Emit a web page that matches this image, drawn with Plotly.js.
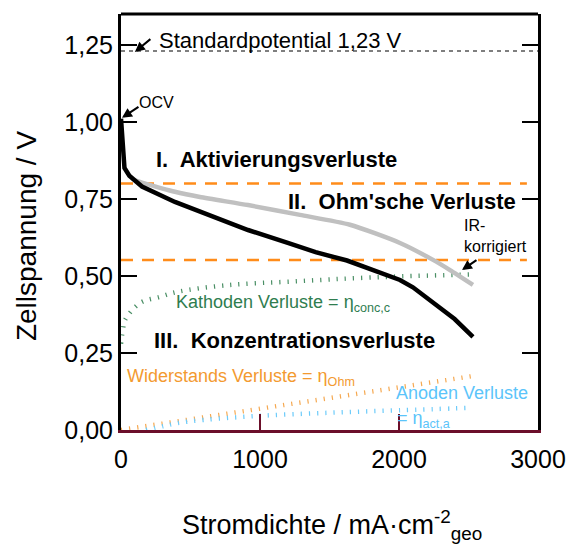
<!DOCTYPE html>
<html>
<head>
<meta charset="utf-8">
<script src="https://cdn.plot.ly/plotly-3.0.1.min.js"></script>
<style>html,body{margin:0;padding:0;background:#fff;}#chart{width:568px;height:546px;}</style>
</head>
<body>
<div id="chart"></div>
<script>
// ---- data ----
const xTicks = [0, 1000, 2000, 3000];
const yTicks = [0, 0.25, 0.5, 0.75, 1.0, 1.25];

const stdX = [0, 3000];
const stdV = [1.23, 1.23];

const boundX = [0, 2920];
const bound1V = [0.80, 0.80];
const bound2V = [0.552, 0.552];

const polX = [0, 10, 25, 60, 151, 388, 914, 1200, 1400, 1626, 1770, 1900, 2007, 2100, 2245, 2400, 2532];
const polV = [1.01, 0.93, 0.85, 0.825, 0.79, 0.74, 0.649, 0.607, 0.577, 0.550, 0.525, 0.505, 0.487, 0.463, 0.415, 0.36, 0.302];

const irX = [100, 151, 388, 568, 914, 1288, 1647, 2007, 2245, 2367, 2532];
const irV = [0.81, 0.803, 0.773, 0.756, 0.73, 0.698, 0.666, 0.607, 0.552, 0.519, 0.471];

const kathX = [0, 15, 29, 137, 280, 403, 763, 1237, 1800, 2530];
const kathV = [0.28, 0.33, 0.357, 0.412, 0.432, 0.448, 0.47, 0.482, 0.495, 0.505];

const ohmX = [0, 500, 1000, 1500, 2000, 2530];
const ohmV = [0, 0.035, 0.07, 0.104, 0.138, 0.175];

const anodeX = [180, 300, 400, 600, 1000, 1500, 2000, 2530];
const anodeV = [0, 0.012, 0.022, 0.033, 0.046, 0.056, 0.064, 0.072];

const FONT = 'Liberation Sans, Arial, sans-serif';
const MAROON = '#6b0f2a';
const ORANGE = '#ff8c1a';
const GREEN = '#2f7d4f';
const BLUE = '#5bc4fa';

const traces = [
  {x: stdX, y: stdV, mode: 'lines', line: {color: '#000', width: 1.2, dash: '4px,4px'}},
  {x: boundX, y: bound1V, mode: 'lines', line: {color: ORANGE, width: 2.5, dash: '12px,9px'}},
  {x: boundX, y: bound2V, mode: 'lines', line: {color: ORANGE, width: 2.5, dash: '12px,9px'}},
  {x: kathX, y: kathV, mode: 'lines', line: {color: '#4a8f65', width: 4.5, dash: '1.2px,7px', shape: 'spline'}},
  {x: ohmX, y: ohmV, mode: 'lines', line: {color: '#f5a850', width: 4.5, dash: '1.2px,7px'}},
  {x: anodeX, y: anodeV, mode: 'lines', line: {color: '#6ccbfa', width: 4.5, dash: '1.2px,7px', shape: 'spline'}},
  {x: irX, y: irV, mode: 'lines', line: {color: '#c0c0c0', width: 4.5, shape: 'spline', smoothing: 0.6}},
  {x: polX, y: polV, mode: 'lines', line: {color: '#000', width: 4.5}}
];

function txt(x, y, text, size, color, bold, extra) {
  return Object.assign({
    x: x, y: y, xref: 'x', yref: 'y', text: bold ? '<b>' + text + '</b>' : text,
    showarrow: false, xanchor: 'left', yanchor: 'middle',
    font: {family: FONT, size: size, color: color}
  }, extra || {});
}
function arrow(x, y, ax, ay) {
  return {x: x, y: y, xref: 'x', yref: 'y', text: ' ', showarrow: true,
    ax: ax, ay: ay, arrowhead: 2, arrowsize: 1, arrowwidth: 2, arrowcolor: '#000', standoff: 0,
    font: {size: 1}};
}

const annotations = [
  txt(259, 1.265, 'Standardpotential 1,23 V', 22, '#000', false),
  arrow(100, 1.227, 17, -14),
  txt(115, 1.062, 'OCV', 16, '#000', false),
  arrow(7, 1.013, 18, -12),
  txt(237, 0.877, 'I.&nbsp; Aktivierungsverluste', 22, '#000', true),
  txt(1187, 0.740, "II.&nbsp; Ohm'sche Verluste", 22, '#000', true),
  txt(2453, 0.631, 'IR-<br>korrigiert', 16, '#000', false, {align: 'left'}),
  arrow(2453, 0.519, 16, -11),
  txt(381, 0.41, 'Kathoden Verluste = η<sub>conc,c</sub>', 18, GREEN, false),
  txt(223, 0.292, 'III.&nbsp; Konzentrationsverluste', 22, '#000', true),
  txt(29, 0.17, 'Widerstands Verluste = η<sub>Ohm</sub>', 18, '#f39a30', false),
  txt(1964, 0.12, 'Anoden Verluste', 18, BLUE, false),
  txt(1971, 0.035, '= η<sub>act,a</sub>', 18, BLUE, false),
  {x: -0.228, y: 0.466, xref: 'paper', yref: 'paper', text: 'Zellspannung / V', textangle: -90,
   showarrow: false, xanchor: 'center', yanchor: 'middle', font: {family: FONT, size: 28, color: '#000'}},
  {x: 0.506, y: -0.228, xref: 'paper', yref: 'paper', text: 'Stromdichte / mA·cm<sup>-2</sup><sub>geo</sub>',
   showarrow: false, xanchor: 'center', yanchor: 'middle', font: {family: FONT, size: 27, color: '#000'}}
];

const layout = {
  width: 568, height: 546,
  margin: {l: 121, r: 30, t: 14, b: 116},
  paper_bgcolor: '#fff', plot_bgcolor: '#fff',
  showlegend: false,
  separators: ', ',
  font: {family: FONT, color: '#000'},
  xaxis: {
    range: [0, 3000], tickvals: xTicks, ticktext: xTicks.map(String),
    ticks: 'inside', ticklen: 16, tickwidth: 2.5, tickcolor: MAROON,
    showline: true, linecolor: MAROON, linewidth: 3,
    showgrid: false, zeroline: false, ticklabelstandoff: 5,
    tickfont: {size: 25, color: '#000'}
  },
  yaxis: {
    range: [0, 1.35], tickvals: yTicks, tickformat: '.2f',
    ticks: 'inside', ticklen: 16, tickwidth: 2.5, tickcolor: '#000',
    showline: true, linecolor: '#000', linewidth: 3, mirror: 'ticks',
    showgrid: false, zeroline: false,
    tickfont: {size: 25, color: '#000'}
  },
  shapes: [
    {type: 'line', xref: 'paper', yref: 'paper', x0: 0, x1: 1, y0: 1, y1: 1, line: {color: '#000', width: 3}}
  ],
  annotations: annotations
};

Plotly.newPlot('chart', traces, layout, {staticPlot: true, displayModeBar: false});
</script>
</body>
</html>
